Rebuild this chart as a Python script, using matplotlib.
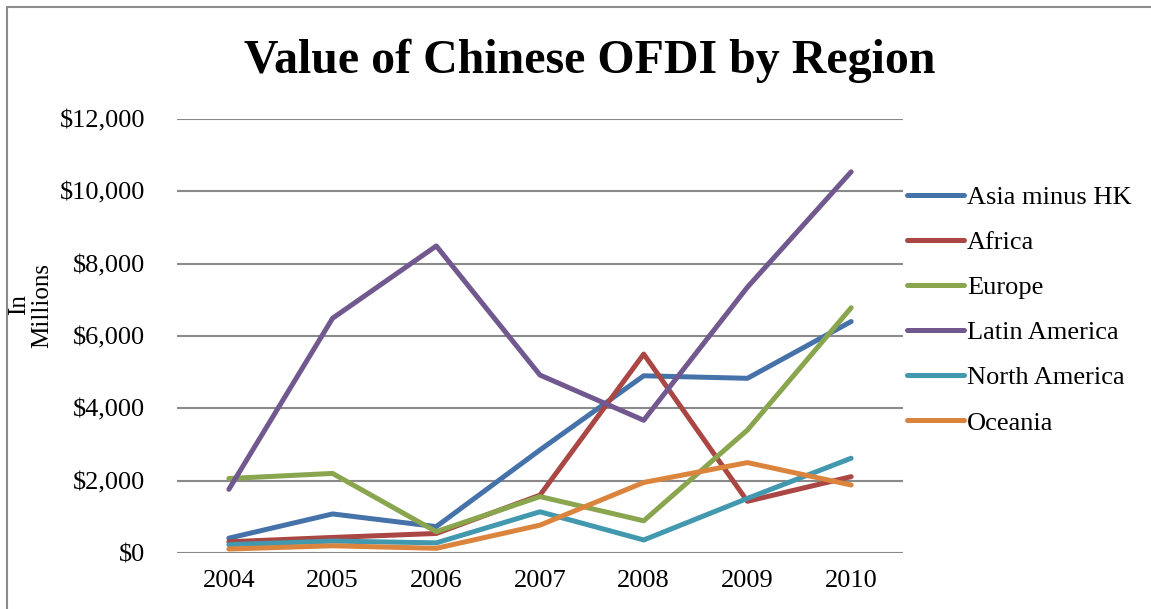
import matplotlib

matplotlib.use("Agg")
import matplotlib.pyplot as plt
from matplotlib.patches import Rectangle
from matplotlib.ticker import FuncFormatter

plt.rcParams["font.family"] = ["Liberation Serif", "DejaVu Serif"]

YEARS = ["2004", "2005", "2006", "2007", "2008", "2009", "2010"]

# value of OFDI, US$ millions
ASIA_MINUS_HK = [410, 1080, 730, 2850, 4900, 4830, 6400]
AFRICA = [310, 430, 540, 1600, 5500, 1430, 2110]
EUROPE = [2060, 2200, 590, 1560, 890, 3400, 6780]
LATIN_AMERICA = [1760, 6490, 8490, 4920, 3670, 7350, 10540]
NORTH_AMERICA = [230, 330, 280, 1140, 360, 1510, 2620]
OCEANIA = [110, 200, 130, 770, 1950, 2500, 1880]

SERIES = [
    ("Asia minus HK", ASIA_MINUS_HK, "#4672AA"),
    ("Africa", AFRICA, "#AA4643"),
    ("Europe", EUROPE, "#89A54E"),
    ("Latin America", LATIN_AMERICA, "#71588F"),
    ("North America", NORTH_AMERICA, "#4198AF"),
    ("Oceania", OCEANIA, "#DB843D"),
]

W, H = 1151, 609
fig = plt.figure(figsize=(W / 100, H / 100), dpi=100)

# chart-area border (runs off the right and bottom edges)
fig.patches.append(Rectangle((7 / W, -0.05), 1.2, 1 - 7 / H + 0.05,
                             transform=fig.transFigure, fill=False,
                             edgecolor="#8c8c8c", linewidth=1.5))

ax = fig.add_axes([177 / W, 1 - 553 / H, 726 / W, 434 / H])

x = list(range(len(YEARS)))
for label, vals, color in SERIES:
    ax.plot(x, vals, color=color, linewidth=3.6, solid_capstyle="round",
            solid_joinstyle="round", label=label)

ax.set_xlim(-0.5, len(YEARS) - 0.5)
ax.set_ylim(0, 12000)
ax.set_yticks(range(0, 12001, 2000))
ax.yaxis.set_major_formatter(FuncFormatter(lambda v, p: f"${v:,.0f}"))
ax.set_xticks(x)
ax.set_xticklabels(YEARS)
ax.tick_params(axis="both", length=0, labelsize=19, colors="black")
ax.tick_params(axis="y", pad=23)
ax.tick_params(axis="x", pad=12)
ax.grid(True, axis="y", color="#8a8a8a", linewidth=1.5)
ax.set_axisbelow(True)
for s in ax.spines.values():
    s.set_visible(False)

fig.text(590 / W, 1 - 61 / H, "Value of Chinese OFDI by Region",
         ha="center", va="center", fontsize=34.5, fontweight="bold")
fig.text(31 / W, 1 - 305 / H, "In\nMillions", rotation=90, ha="center",
         va="center", multialignment="center", fontsize=18, linespacing=1.05)

ax.legend(loc="center left", bbox_to_anchor=(907 / W, 1 - 310 / H),
          bbox_transform=fig.transFigure, frameon=False, fontsize=19,
          handlelength=2.15, handletextpad=0.12, labelspacing=0.82,
          borderpad=0, borderaxespad=0)

plt.savefig("out.png", dpi=100)
